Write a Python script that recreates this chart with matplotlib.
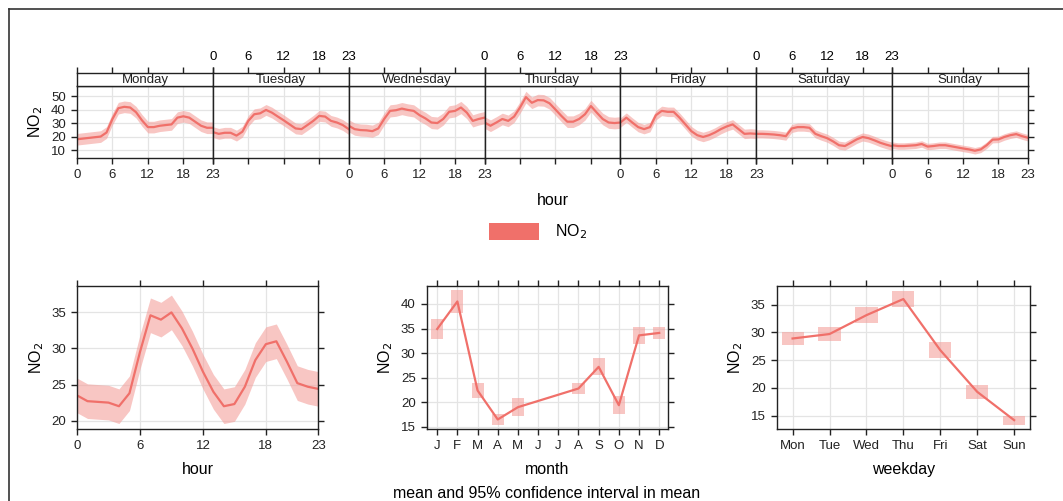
import matplotlib.pyplot as plt
from matplotlib.patches import Patch
from matplotlib.lines import Line2D

plt.rcParams['font.family'] = ['Liberation Sans', 'DejaVu Sans']

# hourly means for each day of the week (top panel)
days = ['Monday', 'Tuesday', 'Wednesday', 'Thursday', 'Friday', 'Saturday', 'Sunday']
hours = list(range(24))
monday = [18, 18.5, 19, 19.5, 20, 23, 33, 41, 42, 41.5, 38, 32,
          27, 27, 28, 28.5, 29, 34, 35, 34, 31, 28, 26.5, 26.5]
tuesday = [23.3, 22, 22.8, 22.8, 20.7, 23.6, 31.6, 36.5, 37.2, 39.7, 37.7, 34.8,
           32, 29, 26, 25.5, 28.5, 31.6, 35.3, 34.8, 31.6, 30.4, 28.5, 25.5]
wednesday = [28, 25.5, 24.8, 24.6, 24, 26, 33, 39, 39.5, 40.7, 39.7, 39,
             35.8, 33.4, 30.4, 30, 33, 38.3, 39, 41.5, 37.7, 31.6, 33, 34]
thursday = [30.4, 28, 30.4, 33, 31.6, 34.8, 41.5, 49.2, 45, 47, 46.8, 44.6,
            40, 35.3, 31, 31, 33, 36.5, 42.6, 37.7, 33, 30.4, 30, 30.4]
friday = [30.4, 34, 30.4, 27, 25.5, 27, 35.8, 39, 38.3, 38.3, 34, 29,
          24, 21, 19.7, 21, 23, 25.5, 27.5, 29, 25.5, 22, 22.3, 22]
saturday = [22, 22, 21.8, 21.5, 21, 20.3, 26, 27, 27, 26.5, 22, 20.3,
            18.8, 16.4, 13.6, 13, 15.4, 17.9, 19.7, 18.8, 17.2, 15.4, 14, 12.8]
sunday = [13.6, 13, 13, 13.3, 13.6, 14.5, 12.6, 13, 13.6, 13.6, 12.8, 12,
          11.2, 10.5, 9.5, 10.5, 13.6, 17.7, 17.9, 19.7, 21, 21.8, 20.3, 19.1]
day_values = [monday, tuesday, wednesday, thursday, friday, saturday, sunday]
day_ci = [4.3, 4.0, 4.5, 4.3, 3.5, 3.0, 2.4]

# diurnal profile
hour_mean = [23.5, 22.7, 22.6, 22.5, 22.0, 23.8, 29.5, 34.6, 34.0, 35.0, 32.8, 30.0,
             26.8, 24.0, 22.0, 22.3, 24.7, 28.4, 30.6, 31.0, 28.2, 25.2, 24.7, 24.4]
hour_ci = 2.4

# monthly means (June and July missing)
month_labels = ['J', 'F', 'M', 'A', 'M', 'J', 'J', 'A', 'S', 'O', 'N', 'D']
months = [1, 2, 3, 4, 5, 8, 9, 10, 11, 12]
month_mean = [34.9, 40.5, 22.4, 16.5, 19.0, 22.8, 27.2, 19.4, 33.6, 34.1]
month_ci = [2.0, 2.3, 1.5, 1.1, 1.8, 1.2, 1.7, 1.8, 1.8, 1.25]

# weekday means
weekdays = ['Mon', 'Tue', 'Wed', 'Thu', 'Fri', 'Sat', 'Sun']
weekday_mean = [28.9, 29.7, 33.1, 36.0, 26.8, 19.3, 14.2]
weekday_ci = [1.2, 1.3, 1.5, 1.4, 1.4, 1.3, 0.8]

line_col = '#F0706A'
fill_col = '#F4A09C'
grid_col = '#E4E4E4'
frame_col = '#222222'
tick_fs = 9.5
label_fs = 11.5

fig = plt.figure(figsize=(10.63, 5.01), dpi=100)


def frame(ax):
    for s in ax.spines.values():
        s.set_color(frame_col)
        s.set_linewidth(1.0)
    ax.tick_params(direction='out', length=4.5, width=1.0, color=frame_col,
                   labelsize=tick_fs, pad=3.5, labelcolor='#222222')
    ax.grid(True, color=grid_col, linewidth=0.9)
    ax.set_axisbelow(True)


# ---- top panel: one narrow axes per day ----
left = 77 / 1063
w = 951 / 1063 / 7
for i, day in enumerate(days):
    ax = fig.add_axes([left + i * w, 0.684, w, 0.1443])
    frame(ax)
    vals = day_values[i]
    lo = [v - day_ci[i] for v in vals]
    hi = [v + day_ci[i] for v in vals]
    ax.fill_between(hours, lo, hi, color=fill_col, alpha=0.6, linewidth=0)
    ax.plot(hours, vals, color=line_col, linewidth=1.6)
    ax.set_xlim(0, 23)
    ax.set_ylim(3.9, 57.4)
    ax.set_xticks([0, 6, 12, 18, 23])
    ax.set_yticks([10, 20, 30, 40, 50])
    ax.tick_params(axis='x', labelbottom=(i % 2 == 0))
    ax.tick_params(axis='y', left=(i == 0), labelleft=(i == 0),
                   right=(i == 6), labelright=False)
    if i == 0:
        ax.set_ylabel('NO$_2$', fontsize=label_fs, labelpad=4)

    strip = fig.add_axes([left + i * w, 0.8283, w, 0.0265])
    for s in strip.spines.values():
        s.set_color(frame_col)
        s.set_linewidth(1.0)
    strip.set_xlim(0, 23)
    strip.set_xticks([0, 6, 12, 18, 23])
    strip.set_yticks([])
    strip.tick_params(axis='x', direction='out', length=4.5, width=1.0, color=frame_col,
                      top=True, bottom=False, labeltop=(i % 2 == 1), labelbottom=False,
                      labelsize=tick_fs, pad=2.5)
    strip.text(0.5, 0.45, day, transform=strip.transAxes, ha='center', va='center',
               fontsize=9.5, color='#222222')

fig.text(553 / 1063, 1 - 201 / 501, 'hour', ha='center', va='center', fontsize=label_fs)

fig.legend(handles=[Patch(facecolor=line_col, edgecolor='none', label='NO$_2$')],
           loc='center', bbox_to_anchor=(538 / 1063, 1 - 232 / 501), frameon=False,
           fontsize=label_fs, handlelength=3.1, handleheight=1.3, handletextpad=1.0)

# ---- bottom left: hour ----
ax1 = fig.add_axes([77 / 1063, 0.1431, 241.3 / 1063, 0.2866])
frame(ax1)
ax1.fill_between(hours, [v - hour_ci for v in hour_mean], [v + hour_ci for v in hour_mean],
                 color=fill_col, alpha=0.6, linewidth=0)
ax1.plot(hours, hour_mean, color=line_col, linewidth=1.6)
ax1.set_xlim(0, 23)
ax1.set_ylim(18.8, 38.7)
ax1.set_xticks([0, 6, 12, 18, 23])
ax1.set_yticks([20, 25, 30, 35])
ax1.tick_params(top=True, right=True)
ax1.set_xlabel('hour', fontsize=label_fs, labelpad=7)
ax1.set_ylabel('NO$_2$', fontsize=label_fs, labelpad=4)

# ---- bottom middle: month ----
ax2 = fig.add_axes([426.7 / 1063, 0.1431, 241.6 / 1063, 0.2866])
frame(ax2)
ax2.bar(months, [2 * c for c in month_ci], bottom=[m - c for m, c in zip(month_mean, month_ci)],
        width=0.6, color=fill_col, alpha=0.6, linewidth=0)
ax2.plot(months, month_mean, color=line_col, linewidth=1.6)
ax2.set_xlim(0.48, 12.45)
ax2.set_ylim(14.5, 43.7)
ax2.set_xticks(range(1, 13))
ax2.set_xticklabels(month_labels)
ax2.set_yticks([15, 20, 25, 30, 35, 40])
ax2.tick_params(top=True, right=True)
ax2.set_xlabel('month', fontsize=label_fs, labelpad=7)
ax2.set_ylabel('NO$_2$', fontsize=label_fs, labelpad=4)

# ---- bottom right: weekday ----
ax3 = fig.add_axes([776.7 / 1063, 0.1431, 253.3 / 1063, 0.2866])
frame(ax3)
wpos = list(range(1, 8))
ax3.bar(wpos, [2 * c for c in weekday_ci], bottom=[m - c for m, c in zip(weekday_mean, weekday_ci)],
        width=0.6, color=fill_col, alpha=0.6, linewidth=0)
ax3.plot(wpos, weekday_mean, color=line_col, linewidth=1.6)
ax3.set_xlim(0.57, 7.43)
ax3.set_ylim(12.55, 38.4)
ax3.set_xticks(wpos)
ax3.set_xticklabels(weekdays)
ax3.set_yticks([15, 20, 25, 30, 35])
ax3.tick_params(top=True, right=True)
ax3.set_xlabel('weekday', fontsize=label_fs, labelpad=7)
ax3.set_ylabel('NO$_2$', fontsize=label_fs, labelpad=4)

fig.text(547 / 1063, 1 - 493 / 501, 'mean and 95% confidence interval in mean',
         ha='center', va='center', fontsize=label_fs)

# outer frame (left and top edges only visible)
fig.add_artist(Line2D([9 / 1063, 9 / 1063], [0, 1 - 9 / 501], color='#333333', linewidth=1.2))
fig.add_artist(Line2D([9 / 1063, 1], [1 - 9 / 501, 1 - 9 / 501], color='#333333', linewidth=1.2))

fig.savefig('out.png', dpi=100)
